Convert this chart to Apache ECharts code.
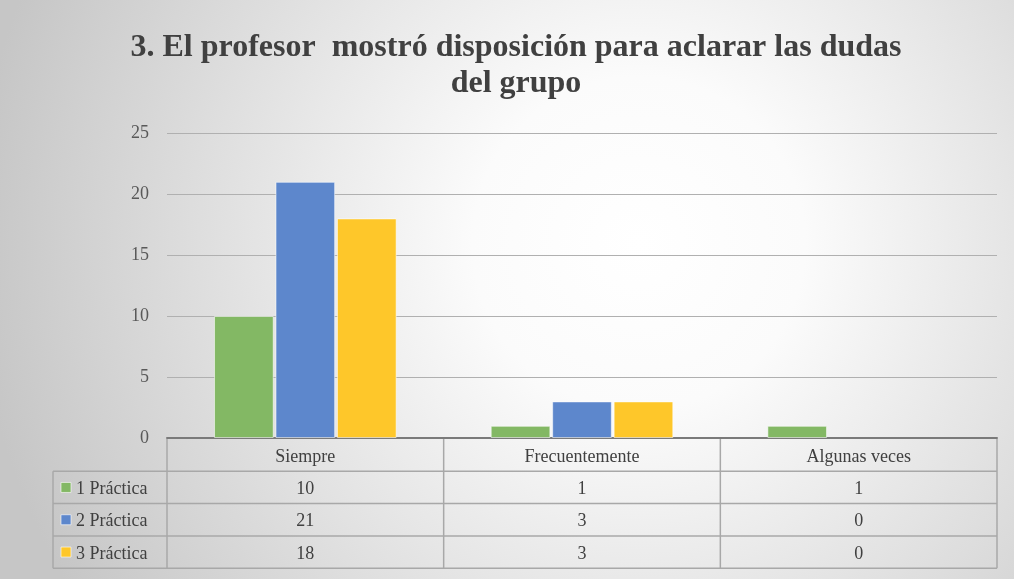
<!DOCTYPE html>
<html>
<head>
<meta charset="utf-8">
<script src="https://cdn.jsdelivr.net/npm/echarts@6/dist/echarts.min.js"></script>
<style>
  html, body { margin: 0; padding: 0; background: #fff; }
  #chart { width: 1014px; height: 579px; }
</style>
</head>
<body>
<div id="chart"></div>
<script>
// data
const categories = ['Siempre', 'Frecuentemente', 'Algunas veces'];
const seriesNames = ['1 Práctica', '2 Práctica', '3 Práctica'];
const practica1 = [10, 1, 1];
const practica2 = [21, 3, 0];
const practica3 = [18, 3, 0];
const yTicks = [0, 5, 10, 15, 20, 25];

const seriesData = [practica1, practica2, practica3];
const colors = ['#83b864', '#5d87cc', '#fec72a'];
const FONT = "'Liberation Serif', 'DejaVu Serif', serif";

// grid / table layout
const gridLeft = 167, gridRight = 997, gridTop = 133, gridBottom = 438;
const tableLeft = 53, rowH = 32.3;

const chart = echarts.init(document.getElementById('chart'));

const options = {
  animation: false,
  backgroundColor: {
    type: 'radial', x: 0.63, y: 0.42, r: 1.15,
    colorStops: [
      { offset: 0, color: '#ffffff' },
      { offset: 0.25, color: '#fbfbfb' },
      { offset: 1, color: '#c6c6c6' }
    ]
  },
  title: {
    text: '3. El profesor  mostró disposición para aclarar las dudas\ndel grupo',
    left: 516,
    top: 30,
    padding: 0,
    textAlign: 'center',
    textStyle: {
      fontFamily: FONT, fontSize: 32, fontWeight: 700,
      color: '#404040', lineHeight: 36
    }
  },
  grid: {
    left: gridLeft, right: 1014 - gridRight,
    top: gridTop, bottom: 579 - gridBottom
  },
  xAxis: {
    type: 'category',
    data: categories,
    axisLine: { show: true, lineStyle: { color: '#7a7a7a', width: 2 } },
    axisTick: { show: false },
    axisLabel: { show: false }
  },
  yAxis: {
    type: 'value',
    min: 0, max: yTicks[yTicks.length - 1], interval: 5,
    axisLine: { show: false },
    axisTick: { show: false },
    axisLabel: {
      fontFamily: FONT, fontSize: 18, color: '#595959', margin: 18
    },
    splitLine: { lineStyle: { color: '#b0b0b0', width: 1 } }
  },
  series: seriesData.map((d, i) => ({
    name: seriesNames[i],
    type: 'bar',
    data: d.map(v => ({
      value: v,
      itemStyle: { borderWidth: v === 0 ? 0 : 1 }
    })),
    barGap: '3%',
    barCategoryGap: '34%',
    itemStyle: {
      color: colors[i],
      borderColor: 'rgba(255,255,255,0.55)'
    }
  }))
};

chart.setOption(options);

// data table underneath the plot, built from the arrays
const tableTop = gridBottom + 1;
const lineStyle = { stroke: '#a8a8a8', lineWidth: 1.5 };
const textStyle = { fontFamily: FONT, fontSize: 18, fill: '#404040' };
const textDy = 2;
const graphics = [];
const nRows = seriesNames.length;
const tableBottom = tableTop + rowH * (nRows + 1);
const colW = (gridRight - gridLeft) / categories.length;

// horizontal lines
for (let r = 1; r <= nRows + 1; r++) {
  const y = tableTop + rowH * r;
  graphics.push({ type: 'line', shape: { x1: tableLeft, y1: y, x2: gridRight, y2: y }, style: lineStyle });
}
// vertical lines
graphics.push({ type: 'line', shape: { x1: tableLeft, y1: tableTop + rowH, x2: tableLeft, y2: tableBottom }, style: lineStyle });
for (let c = 0; c <= categories.length; c++) {
  const x = gridLeft + colW * c;
  graphics.push({ type: 'line', shape: { x1: x, y1: tableTop, x2: x, y2: tableBottom }, style: lineStyle });
}
// header labels
categories.forEach((cat, c) => {
  const cx = chart.convertToPixel({ xAxisIndex: 0 }, cat);
  graphics.push({
    type: 'text', x: cx, y: tableTop + rowH / 2 + textDy,
    style: Object.assign({ text: cat, align: 'center', verticalAlign: 'middle' }, textStyle)
  });
});
// rows
seriesNames.forEach((name, r) => {
  const cy = tableTop + rowH * (r + 1.5);
  graphics.push({
    type: 'rect', shape: { x: tableLeft + 8, y: cy - 5, width: 10, height: 10 },
    style: { fill: colors[r], stroke: 'rgba(255,255,255,0.6)', lineWidth: 1 }
  });
  graphics.push({
    type: 'text', x: tableLeft + 23, y: cy + textDy,
    style: Object.assign({ text: name, align: 'left', verticalAlign: 'middle' }, textStyle)
  });
  seriesData[r].forEach((v, c) => {
    const cx = chart.convertToPixel({ xAxisIndex: 0 }, categories[c]);
    graphics.push({
      type: 'text', x: cx, y: cy + textDy,
      style: Object.assign({ text: String(v), align: 'center', verticalAlign: 'middle' }, textStyle)
    });
  });
});

chart.setOption({ graphic: graphics });
</script>
</body>
</html>
